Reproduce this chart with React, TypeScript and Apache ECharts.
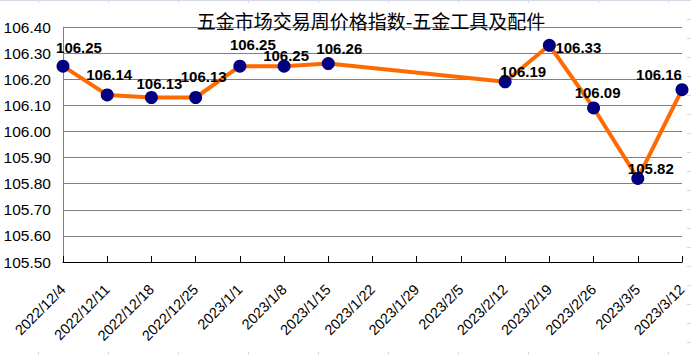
import React, { useEffect, useRef } from "react";
import * as echarts from "echarts";

const categories = [
  "2022/12/4", "2022/12/11", "2022/12/18", "2022/12/25", "2023/1/1", "2023/1/8", "2023/1/15",
  "2023/1/22", "2023/1/29", "2023/2/5", "2023/2/12", "2023/2/19", "2023/2/26", "2023/3/5", "2023/3/12",
];
const values: (number | null)[] = [
  106.25, 106.14, 106.13, 106.13, 106.25, 106.25, 106.26,
  null, null, null, 106.19, 106.33, 106.09, 105.82, 106.16,
];
// label offsets (dx, dy) relative to each point's centre
const labelOffsets: [number, number][] = [
  [16, -19], [2, -20], [8, -14], [8, -21], [13, -22], [2, -11], [11, -15],
  [0, 0], [0, 0], [0, 0], [18, -10], [29, 2], [4, -15], [13, -10], [-23, -15],
];
const yMin = 105.5;
const yMax = 106.4;
const yStep = 0.1;
const title = "五金市场交易周价格指数-五金工具及配件";

export default function App() {
  const ref = useRef<HTMLDivElement>(null);
  useEffect(() => {
    if (!ref.current) return;
    const chart = echarts.init(ref.current, undefined, { renderer: "svg" });
    const faint = "#D4D9E6";
    const graphics: any[] = [
      { type: "line", shape: { x1: 0, y1: 0.5, x2: 691, y2: 0.5 }, style: { stroke: faint, lineWidth: 1 }, silent: true },
    ];
    for (let x = 38; x < 691; x += 70) {
      graphics.push({ type: "line", shape: { x1: x + 0.5, y1: 0, x2: x + 0.5, y2: 3 }, style: { stroke: faint, lineWidth: 1 }, silent: true });
      graphics.push({ type: "line", shape: { x1: x + 0.5, y1: 352, x2: x + 0.5, y2: 355 }, style: { stroke: faint, lineWidth: 1 }, silent: true });
    }
    for (let y = 19; y < 355; y += 19) {
      graphics.push({ type: "line", shape: { x1: 687, y1: y + 0.5, x2: 691, y2: y + 0.5 }, style: { stroke: faint, lineWidth: 1 }, silent: true });
    }
    chart.setOption({
      animation: false,
      backgroundColor: "#ffffff",
      title: {
        text: title,
        left: 366,
        textAlign: "center",
        top: 6,
        textStyle: { fontFamily: "Noto Sans CJK SC", fontSize: 19, fontWeight: "normal", color: "#000" },
      },
      graphic: graphics,
      grid: { left: 63, right: 9, top: 27, bottom: 93 },
      xAxis: {
        type: "category",
        data: categories,
        boundaryGap: false,
        axisLine: { lineStyle: { color: "#000", width: 1 } },
        axisTick: { inside: true, length: 6, lineStyle: { color: "#000" } },
        axisLabel: {
          rotate: 45,
          interval: 0,
          margin: 25,
          fontFamily: "Liberation Sans",
          fontSize: 14.5,
          color: "#000",
        },
        splitLine: { show: false },
      },
      yAxis: {
        type: "value",
        min: yMin,
        max: yMax,
        interval: yStep,
        axisLine: { show: true, lineStyle: { color: "#808080" } },
        axisTick: { show: false },
        axisLabel: {
          margin: 12,
          fontFamily: "Liberation Sans",
          fontSize: 15.5,
          color: "#000",
          formatter: (v: number) => v.toFixed(2),
        },
        splitLine: { lineStyle: { color: "#808080", width: 1 } },
      },
      series: [
        {
          type: "line",
          connectNulls: true,
          data: values.map((v, i) => ({
            value: v,
            label: {
              show: v !== null,
              position: "inside",
              offset: labelOffsets[i],
            },
          })),
          symbol: "circle",
          symbolSize: 13,
          itemStyle: { color: "#000080", borderWidth: 0 },
          lineStyle: { color: "#FF6A00", width: 4 },
          label: {
            show: true,
            position: "inside",
            fontFamily: "Liberation Sans",
            fontSize: 15,
            fontWeight: "bold",
            color: "#000",
            formatter: (p: any) => Number(p.value).toFixed(2),
          },
          z: 3,
        },
      ],
    });
    return () => chart.dispose();
  }, []);
  return <div ref={ref} style={{ position: "absolute", left: 0, top: 0, width: 691, height: 355 }} />;
}
